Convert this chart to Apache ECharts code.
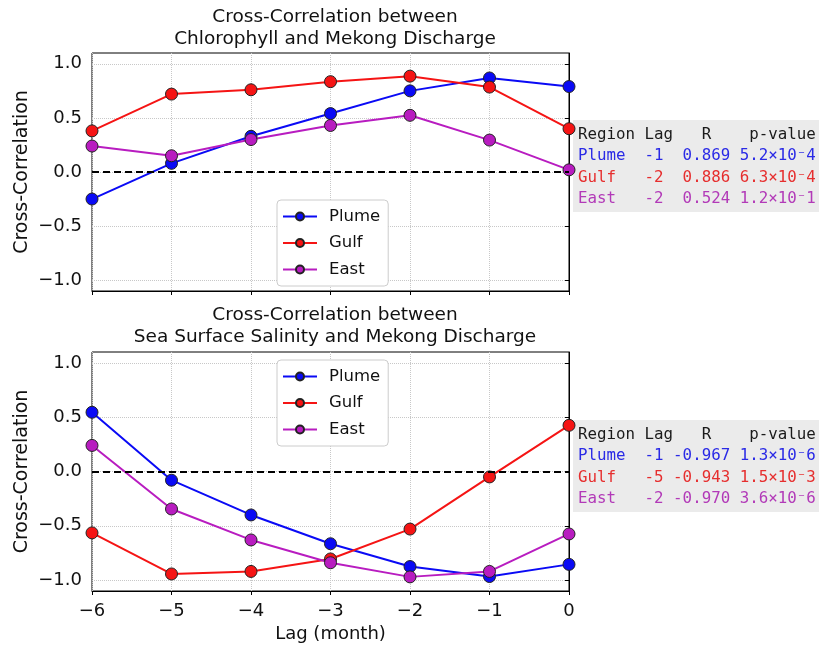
<!DOCTYPE html>
<html>
<head>
<meta charset="utf-8">
<script src="https://cdn.jsdelivr.net/npm/echarts@6/dist/echarts.min.js"></script>
<style>
  html, body { margin: 0; padding: 0; background: #fff; }
  #chart { width: 819px; height: 647px; }
</style>
</head>
<body>
<div id="chart"></div>
<script>
// Lags (months) shared by both panels
const lags = [-6, -5, -4, -3, -2, -1, 0];

// Chlorophyll vs Mekong discharge cross-correlation
const chlPlume = [-0.25, 0.08, 0.33, 0.54, 0.75, 0.869, 0.79];
const chlGulf  = [0.38, 0.72, 0.76, 0.835, 0.886, 0.785, 0.40];
const chlEast  = [0.24, 0.15, 0.30, 0.43, 0.524, 0.295, 0.02];

// Sea surface salinity vs Mekong discharge cross-correlation
const sssPlume = [0.545, -0.08, -0.40, -0.665, -0.875, -0.967, -0.855];
const sssGulf  = [-0.565, -0.943, -0.92, -0.805, -0.53, -0.05, 0.425];
const sssEast  = [0.24, -0.345, -0.63, -0.84, -0.970, -0.92, -0.575];

// Peak statistics per region
const regions = ['Plume', 'Gulf', 'East'];
const chlLag = [-1, -2, -2];
const chlR   = ['0.869', '0.886', '0.524'];
const chlP   = ['5.2×10⁻4', '6.3×10⁻4', '1.2×10⁻1'];
const sssLag = [-1, -5, -2];
const sssR   = ['-0.967', '-0.943', '-0.970'];
const sssP   = ['1.3×10⁻6', '1.5×10⁻3', '3.6×10⁻6'];

const yTicks = [-1.0, -0.5, 0.0, 0.5, 1.0];

const colors = { Plume: '#0a0af5', Gulf: '#f51414', East: '#b81cc0' };
const tableColors = { Plume: '#2a2ae6', Gulf: '#e62e2e', East: '#b23ab8' };
const FONT = 'DejaVu Sans';
const MONO = 'DejaVu Sans Mono';

const minus = s => String(s).replace(/-/g, '\u2212');

function pair(arr) { return lags.map((x, i) => [x, arr[i]]); }

function buildTable(lagArr, rArr, pArr) {
  const lines = ['{h|' + 'Region Lag   R    p-value' + '}'];
  regions.forEach((reg, i) => {
    const row = reg.padEnd(6) + String(lagArr[i]).padStart(3) + rArr[i].padStart(7) + ' ' + pArr[i];
    lines.push('{' + reg + '|' + row + '}');
  });
  return lines.join('\n');
}

const tableRich = {
  h: { fill: '#1a1a1a', fontFamily: MONO, fontSize: 15.8, lineHeight: 21.5 },
  Plume: { fill: tableColors.Plume, fontFamily: MONO, fontSize: 15.8, lineHeight: 21.5 },
  Gulf: { fill: tableColors.Gulf, fontFamily: MONO, fontSize: 15.8, lineHeight: 21.5 },
  East: { fill: tableColors.East, fontFamily: MONO, fontSize: 15.8, lineHeight: 21.5 }
};

function makeTable(top, lagArr, rArr, pArr) {
  return {
    type: 'group', left: 573, top: top,
    children: [
      { type: 'rect', shape: { x: 0, y: 0, width: 246, height: 92 }, style: { fill: '#ebebeb' } },
      { type: 'text', x: 5, y: 4, style: { text: buildTable(lagArr, rArr, pArr), rich: tableRich, fontFamily: MONO, fontSize: 15.8 } }
    ]
  };
}

const grids = [
  { left: 92, right: 250, top: 53, height: 238, show: true, borderColor: '#000', borderWidth: 1, backgroundColor: 'transparent' },
  { left: 92, right: 250, top: 352, height: 239, show: true, borderColor: '#000', borderWidth: 1, backgroundColor: 'transparent' }
];

function xAxis(idx, showLabels) {
  return {
    type: 'value', gridIndex: idx, min: -6, max: 0, interval: 1,
    axisLine: { show: true, onZero: false, lineStyle: { color: '#000', width: 1 } },
    axisTick: { show: true, inside: false, length: 4, lineStyle: { color: '#000' } },
    axisLabel: { show: showLabels, color: '#111', fontSize: 18, fontFamily: FONT, margin: 11, formatter: v => minus(v) },
    splitLine: { show: true, lineStyle: { color: '#c8c8c8', type: 'dotted', width: 1 } },
    name: showLabels ? 'Lag (month)' : '', nameLocation: 'middle', nameGap: 34,
    nameTextStyle: { color: '#111', fontSize: 18, fontFamily: FONT }
  };
}

function yAxis(idx) {
  return {
    type: 'value', gridIndex: idx, min: -1.1, max: 1.1,
    axisLine: { show: true, lineStyle: { color: '#000', width: 1 } },
    axisTick: { show: true, inside: false, length: 4, lineStyle: { color: '#000' }, customValues: yTicks },
    axisLabel: { color: '#111', fontSize: 18, fontFamily: FONT, margin: 10, customValues: yTicks, formatter: v => minus(v.toFixed(1)) },
    splitLine: { show: true, lineStyle: { color: '#c8c8c8', type: 'dotted', width: 1 } },
    name: 'Cross-Correlation', nameLocation: 'middle', nameGap: 60, nameMoveOverlap: false,
    nameTextStyle: { color: '#111', fontSize: 19, fontFamily: FONT }
  };
}

function lineSeries(name, data, idx, withZero) {
  const s = {
    name: name, type: 'line', xAxisIndex: idx, yAxisIndex: idx,
    data: pair(data),
    symbol: 'circle', symbolSize: 12,
    lineStyle: { color: colors[name], width: 2 },
    itemStyle: { color: colors[name], borderColor: '#222', borderWidth: 1 },
    emphasis: { disabled: true },
    animation: false
  };
  if (withZero) {
    s.markLine = {
      silent: true, symbol: 'none', label: { show: false },
      lineStyle: { color: '#000', type: [7, 4], width: 1.8 },
      data: [{ yAxis: 0 }]
    };
  }
  return s;
}

function legend(top) {
  return {
    orient: 'vertical', left: 277, top: top,
    data: regions,
    itemWidth: 34, itemHeight: 10, itemGap: 9.5,
    padding: [8, 8, 8, 5],
    borderColor: '#cccccc', borderWidth: 1, borderRadius: 4,
    backgroundColor: '#fff',
    textStyle: { color: '#111', fontSize: 16.5, fontFamily: FONT, padding: [0, 0, 0, 7] },
    selectedMode: false
  };
}

const chart = echarts.init(document.getElementById('chart'), null, { renderer: 'canvas' });
chart.setOption({
  animation: false,
  textStyle: { fontFamily: FONT },
  title: [
    { text: 'Cross-Correlation between\nChlorophyll and Mekong Discharge', left: 330, top: 1, textAlign: 'center',
      textStyle: { fontSize: 18.5, fontWeight: 'normal', color: '#111', lineHeight: 22, fontFamily: FONT } },
    { text: 'Cross-Correlation between\nSea Surface Salinity and Mekong Discharge', left: 330, top: 299, textAlign: 'center',
      textStyle: { fontSize: 18.5, fontWeight: 'normal', color: '#111', lineHeight: 22, fontFamily: FONT } }
  ],
  grid: grids,
  xAxis: [xAxis(0, false), xAxis(1, true)],
  yAxis: [yAxis(0), yAxis(1)],
  legend: [legend(200), legend(360)],
  series: [
    lineSeries('Plume', chlPlume, 0, true),
    lineSeries('Gulf', chlGulf, 0, false),
    lineSeries('East', chlEast, 0, false),
    lineSeries('Plume', sssPlume, 1, true),
    lineSeries('Gulf', sssGulf, 1, false),
    lineSeries('East', sssEast, 1, false)
  ],
  graphic: [
    makeTable(120, chlLag, chlR, chlP),
    makeTable(420, sssLag, sssR, sssP)
  ]
});
</script>
</body>
</html>
